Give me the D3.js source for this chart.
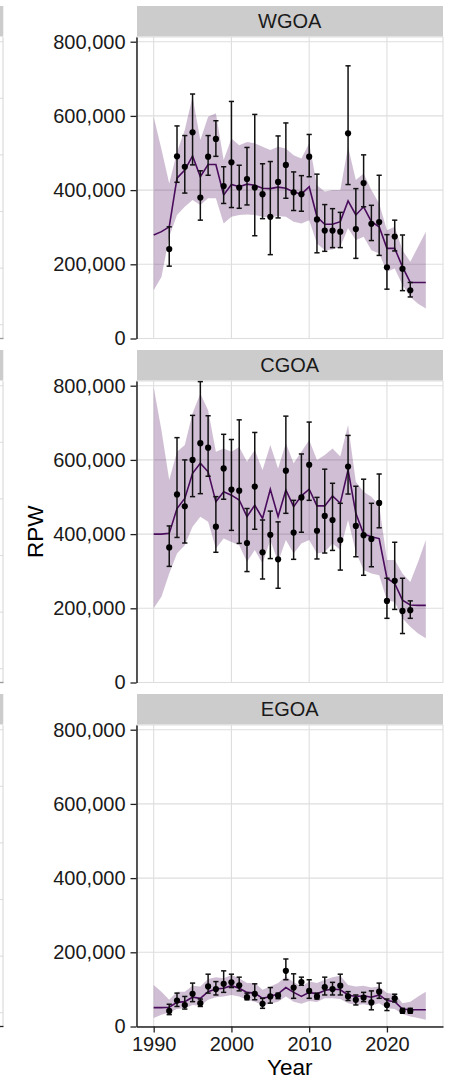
<!DOCTYPE html>
<html>
<head>
<meta charset="utf-8">
<script src="https://cdn.jsdelivr.net/npm/d3@7"></script>
<style>
  body { margin: 0; background: #fff; }
  svg { display: block; font-family: "Liberation Sans", Arial, sans-serif; }
</style>
</head>
<body>
<svg id="chart" width="449" height="1080"></svg>
<script>
// Regions (facets), top to bottom
const regions = ["WGOA", "CGOA", "EGOA"];

// Model years and survey years
const modelYears = d3.range(1990, 2026);
const obsYears = d3.range(1992, 2024);

const xTicks = [1990, 2000, 2010, 2020];
const yTicks = [0, 200000, 400000, 600000, 800000];

// Survey RPW with error bars
const wgoaObs = [241000, 491000, 463000, 556000, 380000, 490000, 538000, 411000, 475000, 407000, 430000, 407000, 389000, 328000, 422000, 468000, 394000, 389000, 490000, 321000, 291000, 291000, 288000, 553000, 295000, 419000, 309000, 314000, 192000, 275000, 188000, 130000];
const wgoaObsHi = [301000, 573000, 547000, 659000, 452000, 547000, 587000, 463000, 639000, 467000, 515000, 604000, 471000, 477000, 546000, 581000, 449000, 439000, 550000, 443000, 361000, 350000, 340000, 735000, 404000, 495000, 359000, 440000, 280000, 319000, 279000, 151000];
const wgoaObsLo = [195000, 421000, 392000, 468000, 319000, 440000, 491000, 364000, 353000, 351000, 360000, 277000, 323000, 226000, 325000, 378000, 345000, 343000, 436000, 231000, 235000, 245000, 245000, 415000, 216000, 355000, 264000, 224000, 133000, 236000, 129000, 112000];

const cgoaObs = [364000, 507000, 475000, 600000, 645000, 633000, 420000, 577000, 520000, 517000, 376000, 528000, 351000, 398000, 332000, 571000, 404000, 499000, 587000, 409000, 449000, 438000, 384000, 582000, 422000, 397000, 387000, 484000, 220000, 274000, 193000, 195000];
const cgoaObsHi = [422000, 660000, 600000, 720000, 811000, 719000, 501000, 669000, 655000, 708000, 469000, 674000, 438000, 462000, 433000, 718000, 491000, 616000, 702000, 499000, 575000, 537000, 483000, 666000, 529000, 548000, 483000, 562000, 281000, 378000, 281000, 220000];
const cgoaObsLo = [313000, 391000, 376000, 501000, 509000, 556000, 351000, 494000, 410000, 375000, 299000, 413000, 279000, 334000, 254000, 456000, 332000, 405000, 491000, 333000, 349000, 356000, 303000, 508000, 339000, 289000, 312000, 417000, 173000, 197000, 132000, 173000];

const egoaObs = [42000, 70000, 58000, 88000, 63000, 108000, 101000, 115000, 119000, 111000, 79000, 88000, 61000, 81000, 83000, 150000, 105000, 120000, 96000, 81000, 106000, 101000, 110000, 81000, 72000, 78000, 65000, 94000, 58000, 76000, 42000, 42000];
const egoaObsHi = [60000, 90000, 81000, 117000, 74000, 141000, 121000, 150000, 141000, 133000, 90000, 115000, 76000, 105000, 90000, 182000, 142000, 133000, 126000, 90000, 133000, 119000, 141000, 94000, 85000, 92000, 96000, 117000, 74000, 87000, 49000, 49000];
const egoaObsLo = [32000, 54000, 47000, 67000, 54000, 90000, 85000, 92000, 105000, 96000, 72000, 72000, 49000, 63000, 75000, 126000, 76000, 111000, 76000, 74000, 85000, 85000, 85000, 70000, 58000, 67000, 45000, 76000, 43000, 66000, 36000, 36000];

// Model estimate with confidence band
const wgoaEst = [279000, 288000, 301000, 432000, 454000, 492000, 436000, 469000, 469000, 387000, 415000, 409000, 416000, 413000, 405000, 404000, 408000, 405000, 395000, 389000, 409000, 328000, 308000, 308000, 315000, 371000, 333000, 355000, 315000, 301000, 243000, 243000, 193000, 151000, 151000, 151000];
const wgoaEstHi = [598000, 510000, 418000, 503000, 562000, 652000, 535000, 598000, 607000, 481000, 539000, 521000, 530000, 526000, 517000, 508000, 517000, 512000, 494000, 485000, 526000, 413000, 396000, 400000, 400000, 517000, 427000, 445000, 400000, 364000, 292000, 301000, 238000, 207000, 247000, 288000];
const wgoaEstLo = [130000, 166000, 274000, 333000, 355000, 373000, 360000, 378000, 378000, 310000, 328000, 333000, 334000, 333000, 328000, 326000, 330000, 328000, 315000, 310000, 319000, 256000, 238000, 240000, 247000, 297000, 265000, 274000, 238000, 229000, 180000, 189000, 144000, 112000, 94000, 81000];

const cgoaEst = [400000, 400000, 402000, 469000, 496000, 564000, 591000, 568000, 487000, 514000, 505000, 492000, 447000, 478000, 442000, 521000, 447000, 519000, 474000, 503000, 521000, 476000, 476000, 503000, 483000, 573000, 456000, 400000, 393000, 388000, 281000, 267000, 222000, 209000, 208000, 208000];
const cgoaEstHi = [796000, 680000, 546000, 622000, 640000, 726000, 779000, 734000, 622000, 631000, 622000, 635000, 595000, 627000, 573000, 640000, 577000, 645000, 591000, 622000, 654000, 600000, 613000, 631000, 609000, 694000, 541000, 514000, 501000, 478000, 330000, 330000, 294000, 271000, 325000, 384000];
const cgoaEstLo = [200000, 231000, 294000, 348000, 370000, 420000, 447000, 433000, 361000, 388000, 379000, 370000, 325000, 357000, 321000, 384000, 325000, 384000, 348000, 375000, 384000, 348000, 352000, 375000, 357000, 438000, 352000, 303000, 294000, 289000, 222000, 217000, 173000, 150000, 132000, 119000];

const egoaEst = [51000, 51000, 52000, 65000, 67000, 79000, 76000, 94000, 101000, 103000, 110000, 103000, 92000, 90000, 76000, 81000, 88000, 105000, 92000, 81000, 92000, 88000, 97000, 101000, 99000, 85000, 81000, 83000, 79000, 85000, 70000, 67000, 47000, 45000, 45000, 45000];
const egoaEstHi = [112000, 94000, 72000, 94000, 94000, 110000, 108000, 128000, 133000, 130000, 139000, 130000, 117000, 117000, 99000, 108000, 117000, 135000, 119000, 108000, 121000, 117000, 126000, 133000, 137000, 112000, 108000, 110000, 105000, 108000, 90000, 88000, 63000, 67000, 81000, 94000];
const egoaEstLo = [23000, 32000, 38000, 47000, 49000, 58000, 56000, 72000, 79000, 81000, 85000, 81000, 72000, 67000, 58000, 61000, 67000, 81000, 67000, 61000, 69000, 66000, 76000, 76000, 74000, 63000, 58000, 60000, 56000, 63000, 49000, 47000, 34000, 27000, 23000, 18000];

const obsByRegion = {
    WGOA: [wgoaObs, wgoaObsLo, wgoaObsHi],
    CGOA: [cgoaObs, cgoaObsLo, cgoaObsHi],
    EGOA: [egoaObs, egoaObsLo, egoaObsHi]
};
const estByRegion = {
    WGOA: [wgoaEst, wgoaEstLo, wgoaEstHi],
    CGOA: [cgoaEst, cgoaEstLo, cgoaEstHi],
    EGOA: [egoaEst, egoaEstLo, egoaEstHi]
};

// Layout
const panelLeft = 136.5, panelRight = 443;
const stripTop0 = 6, stripH = 30.5, panelH = 301.5, facetStep = 344;
const gridColor = "#dedede";
const lineColor = "#4a0c5c";
const bandColor = "#440154";
const inkColor = "#111";

const svg = d3.select("#chart");

const x = d3.scaleLinear()
    .domain([1987.79, 2027.21])
    .range([panelLeft, panelRight]);

// Neighbouring facet column, cut off at the left edge
regions.forEach((r, i) => {
    const sTop = stripTop0 + i * facetStep;
    const pTop = sTop + stripH + 0.5;
    svg.append("rect")
        .attr("x", 0).attr("y", sTop)
        .attr("width", 3.3).attr("height", stripH)
        .attr("fill", "#cccccc");
    [4.7, 61.3, 117.9, 174.5, 231.1, 287.7].forEach(off => {
        svg.append("line")
            .attr("x1", 0).attr("x2", 3)
            .attr("y1", pTop + off).attr("y2", pTop + off)
            .attr("stroke", gridColor).attr("stroke-width", 1.1);
    });
    svg.append("line")
        .attr("x1", 3).attr("x2", 3)
        .attr("y1", pTop).attr("y2", pTop + panelH)
        .attr("stroke", "#d4d4d4").attr("stroke-width", 1);
    svg.append("line")
        .attr("x1", 0).attr("x2", 3.5)
        .attr("y1", pTop + panelH).attr("y2", pTop + panelH)
        .attr("stroke", i === 2 ? "#222" : "#999").attr("stroke-width", 1.3);
});

// Draw one facet
function drawFacet(region, i) {
    const sTop = stripTop0 + i * facetStep;
    const pTop = sTop + stripH + 0.5;
    const pBottom = pTop + panelH;

    const y = d3.scaleLinear()
        .domain([0, 812700])
        .range([pBottom, pTop]);

    const g = svg.append("g");

    // Strip
    g.append("rect")
        .attr("x", panelLeft + 0.5).attr("y", sTop)
        .attr("width", panelRight - panelLeft - 0.5).attr("height", stripH)
        .attr("fill", "#cccccc");
    g.append("text")
        .attr("x", (panelLeft + panelRight) / 2)
        .attr("y", sTop + stripH / 2 + 7)
        .attr("text-anchor", "middle")
        .attr("font-size", 20)
        .attr("fill", "#1a1a1a")
        .text(region);

    // Gridlines
    g.selectAll(".gx")
        .data(xTicks)
        .enter()
        .append("line")
        .attr("x1", d => x(d)).attr("x2", d => x(d))
        .attr("y1", pTop).attr("y2", pBottom)
        .attr("stroke", gridColor).attr("stroke-width", 1.1);
    g.selectAll(".gy")
        .data(yTicks)
        .enter()
        .append("line")
        .attr("x1", panelLeft).attr("x2", panelRight)
        .attr("y1", d => y(d)).attr("y2", d => y(d))
        .attr("stroke", gridColor).attr("stroke-width", 1.1);

    // Panel border
    g.append("rect")
        .attr("x", panelLeft).attr("y", pTop)
        .attr("width", panelRight - panelLeft).attr("height", panelH)
        .attr("fill", "none")
        .attr("stroke", gridColor).attr("stroke-width", 1.1);

    const [est, estLo, estHi] = estByRegion[region];
    const [obs, obsLo, obsHi] = obsByRegion[region];

    // Confidence band
    g.append("path")
        .datum(modelYears)
        .attr("d", d3.area()
            .x(d => x(d))
            .y0((d, k) => y(estLo[k]))
            .y1((d, k) => y(estHi[k])))
        .attr("fill", bandColor)
        .attr("fill-opacity", 0.25);

    // Model estimate
    g.append("path")
        .datum(modelYears)
        .attr("d", d3.line()
            .x(d => x(d))
            .y((d, k) => y(est[k])))
        .attr("fill", "none")
        .attr("stroke", lineColor)
        .attr("stroke-width", 1.6);

    // Error bars
    const bars = g.selectAll(".bar")
        .data(obsYears)
        .enter()
        .append("g");
    bars.append("line")
        .attr("x1", d => x(d)).attr("x2", d => x(d))
        .attr("y1", (d, k) => y(obsLo[k])).attr("y2", (d, k) => y(obsHi[k]))
        .attr("stroke", inkColor).attr("stroke-width", 1.5);
    bars.append("line")
        .attr("x1", d => x(d) - 2.6).attr("x2", d => x(d) + 2.6)
        .attr("y1", (d, k) => y(obsHi[k])).attr("y2", (d, k) => y(obsHi[k]))
        .attr("stroke", inkColor).attr("stroke-width", 1.5);
    bars.append("line")
        .attr("x1", d => x(d) - 2.6).attr("x2", d => x(d) + 2.6)
        .attr("y1", (d, k) => y(obsLo[k])).attr("y2", (d, k) => y(obsLo[k]))
        .attr("stroke", inkColor).attr("stroke-width", 1.5);

    // Points
    g.selectAll(".pt")
        .data(obsYears)
        .enter()
        .append("circle")
        .attr("cx", d => x(d))
        .attr("cy", (d, k) => y(obs[k]))
        .attr("r", 3.1)
        .attr("fill", "#000");

    // Y axis
    const yAxis = g.append("g")
        .attr("transform", `translate(${panelLeft},0)`)
        .call(d3.axisLeft(y).tickValues(yTicks).tickFormat(d3.format(",")).tickSize(6).tickSizeOuter(0).tickPadding(5));
    yAxis.selectAll("text").attr("font-size", 20).attr("fill", "#1a1a1a").attr("font-family", "Liberation Sans, Arial, sans-serif");
    yAxis.selectAll("line").attr("stroke", "#222").attr("stroke-width", 1.3);
    yAxis.select(".domain").attr("stroke", "#222").attr("stroke-width", 1.5);

    // X axis only on the bottom facet
    if (i === regions.length - 1) {
        const xAxis = g.append("g")
            .attr("transform", `translate(0,${pBottom})`)
            .call(d3.axisBottom(x).tickValues(xTicks).tickFormat(d3.format("d")).tickSize(6).tickSizeOuter(0).tickPadding(4));
        xAxis.selectAll("text").attr("font-size", 20).attr("fill", "#1a1a1a").attr("font-family", "Liberation Sans, Arial, sans-serif");
        xAxis.selectAll("line").attr("stroke", "#222").attr("stroke-width", 1.3);
        xAxis.select(".domain").attr("stroke", "#222").attr("stroke-width", 1.5);
    }
}

regions.forEach(drawFacet);

// Axis titles
svg.append("text")
    .attr("x", (panelLeft + panelRight) / 2)
    .attr("y", 1075)
    .attr("text-anchor", "middle")
    .attr("font-size", 22.5)
    .attr("fill", "#000")
    .text("Year");

svg.append("text")
    .attr("transform", `translate(43,${stripTop0 + facetStep + stripH + 0.5 + panelH / 2}) rotate(-90)`)
    .attr("text-anchor", "middle")
    .attr("font-size", 22.5)
    .attr("fill", "#000")
    .text("RPW");
</script>
</body>
</html>
